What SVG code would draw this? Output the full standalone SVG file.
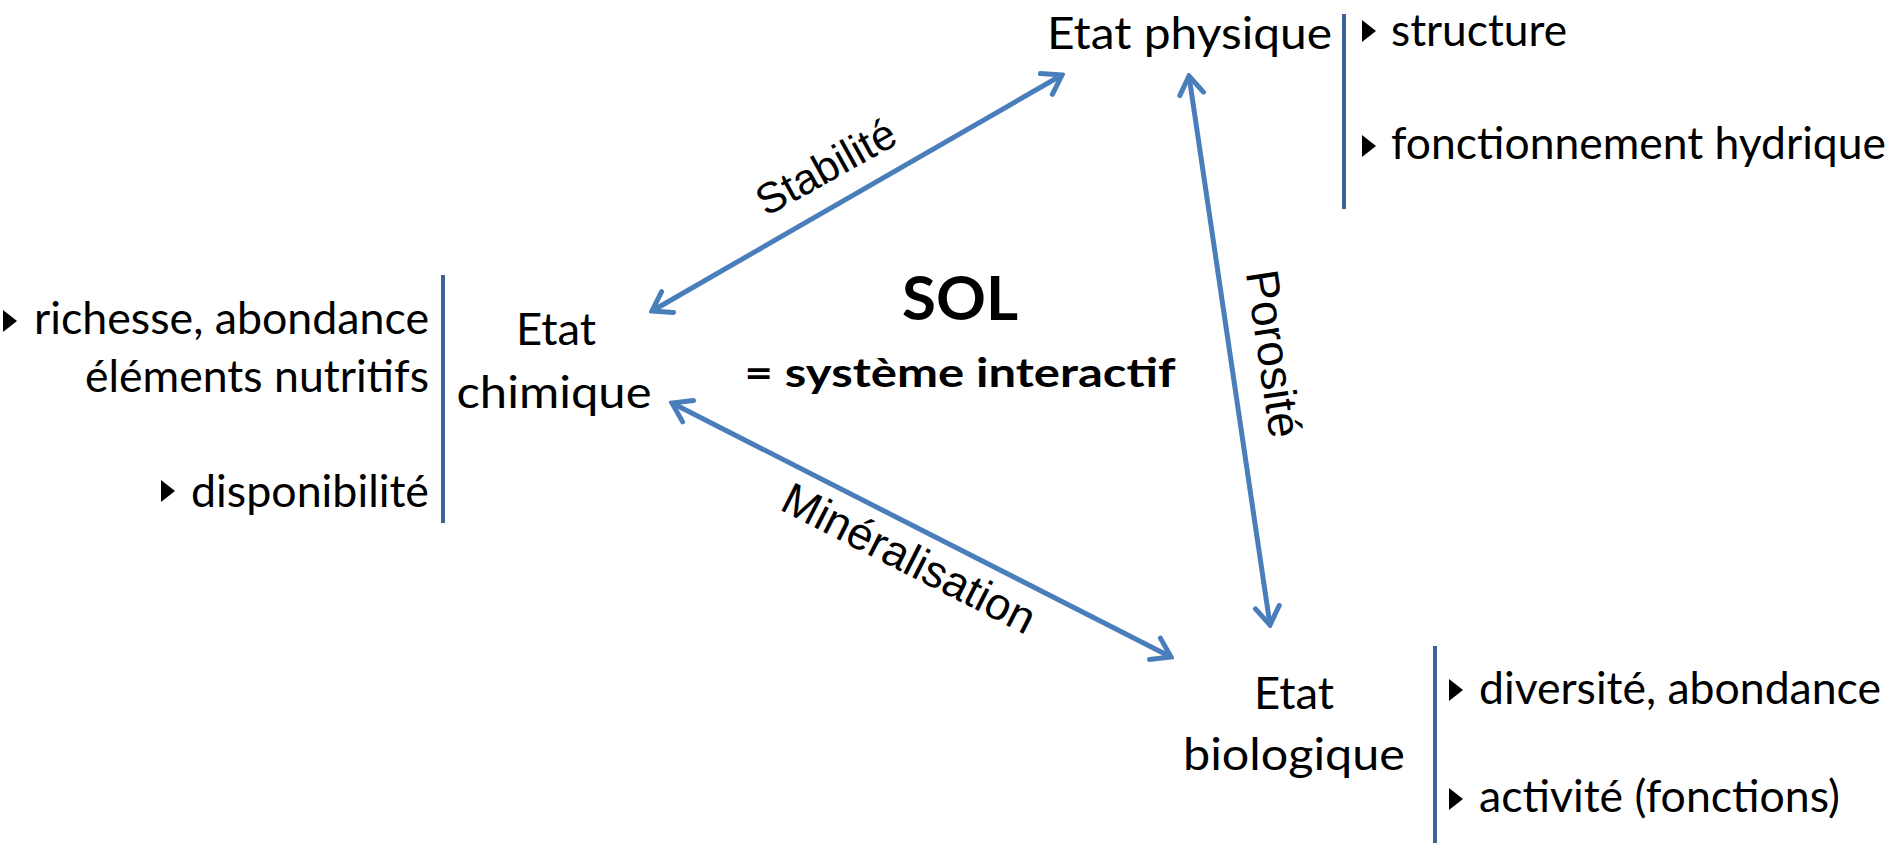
<svg xmlns="http://www.w3.org/2000/svg" width="1893" height="843" viewBox="0 0 1893 843">
  <style>
    .node { font-family: Lato, "Open Sans", "Liberation Sans", sans-serif; font-size: 44px; fill: #000; }
    .title { font-family: Lato, "Open Sans", "Liberation Sans", sans-serif; font-weight: bold; fill: #000; }
    .lbl { font-family: "Liberation Sans", Arial, sans-serif; fill: #000; }
    .sep { stroke: #3d6297; stroke-width: 4; fill: none; }
    .link { stroke: #4a7ebb; stroke-width: 5; fill: none; marker-start: url(#chev); marker-end: url(#chev); }
    .bullet { fill: #000; }
  </style>
  <defs>
    <marker id="chev" viewBox="0 0 24 30" refX="21" refY="15" markerWidth="24" markerHeight="30" markerUnits="userSpaceOnUse" orient="auto-start-reverse">
      <path d="M3,3 L21,15 L3,27" stroke="#4a7ebb" stroke-width="5" stroke-linecap="round" stroke-linejoin="miter" fill="none"/>
    </marker>
    <path id="tri" d="M0,-11 L14,0 L0,11 Z"/>
  </defs>
  <rect width="1893" height="843" fill="#fff"/>

  <!-- centre title -->
  <g id="sol">
    <text class="title" x="960" y="320" font-size="62" text-anchor="middle" textLength="116" lengthAdjust="spacingAndGlyphs">SOL</text>
    <text class="title" x="960" y="387" font-size="40" text-anchor="middle" textLength="431" lengthAdjust="spacingAndGlyphs">= système interactif</text>
  </g>

  <!-- physical state -->
  <g id="etat-physique">
    <text class="node" x="1047" y="49" textLength="285" lengthAdjust="spacingAndGlyphs">Etat physique</text>
    <line class="sep" x1="1344" y1="14" x2="1344" y2="209"/>
    <use class="bullet" href="#tri" x="1362" y="31"/>
    <text class="node" x="1391" y="46" textLength="176" lengthAdjust="spacingAndGlyphs">structure</text>
    <use class="bullet" href="#tri" x="1362" y="146"/>
    <text class="node" x="1391" y="159" textLength="495" lengthAdjust="spacingAndGlyphs">fonctionnement hydrique</text>
  </g>

  <!-- chemical state -->
  <g id="etat-chimique">
    <text class="node" x="556" y="345" text-anchor="middle" textLength="80" lengthAdjust="spacingAndGlyphs">Etat</text>
    <text class="node" x="554" y="408" text-anchor="middle" textLength="195" lengthAdjust="spacingAndGlyphs">chimique</text>
    <line class="sep" x1="443" y1="275" x2="443" y2="523"/>
    <use class="bullet" href="#tri" x="3" y="321"/>
    <text class="node" x="429" y="334" text-anchor="end" textLength="395" lengthAdjust="spacingAndGlyphs">richesse, abondance</text>
    <text class="node" x="429" y="392" text-anchor="end" textLength="344" lengthAdjust="spacingAndGlyphs">éléments nutritifs</text>
    <use class="bullet" href="#tri" x="161" y="491"/>
    <text class="node" x="429" y="507" text-anchor="end" textLength="238" lengthAdjust="spacingAndGlyphs">disponibilité</text>
  </g>

  <!-- biological state -->
  <g id="etat-biologique">
    <text class="node" x="1294" y="709" text-anchor="middle" textLength="80" lengthAdjust="spacingAndGlyphs">Etat</text>
    <text class="node" x="1294" y="770" text-anchor="middle" textLength="222" lengthAdjust="spacingAndGlyphs">biologique</text>
    <line class="sep" x1="1435" y1="646" x2="1435" y2="843"/>
    <use class="bullet" href="#tri" x="1449" y="690"/>
    <text class="node" x="1479" y="704" textLength="402" lengthAdjust="spacingAndGlyphs">diversité, abondance</text>
    <use class="bullet" href="#tri" x="1449" y="799"/>
    <text class="node" x="1479" y="812" textLength="361" lengthAdjust="spacingAndGlyphs">activité (fonctions)</text>
  </g>

  <!-- interactions between the three states -->
  <g id="connectors">
    <line class="link" x1="652" y1="311" x2="1062" y2="75"/>
    <line class="link" x1="1189" y1="76" x2="1270" y2="625"/>
    <line class="link" x1="672" y1="403" x2="1171" y2="657"/>
    <text class="lbl" font-size="43" transform="translate(833,180) rotate(-29)" text-anchor="middle">Stabilité</text>
    <text class="lbl" font-size="46" transform="translate(1258,356) rotate(81.6)" text-anchor="middle">Porosité</text>
    <text class="lbl" font-size="45" transform="translate(902,572) rotate(27)" text-anchor="middle">Minéralisation</text>
  </g>
</svg>
